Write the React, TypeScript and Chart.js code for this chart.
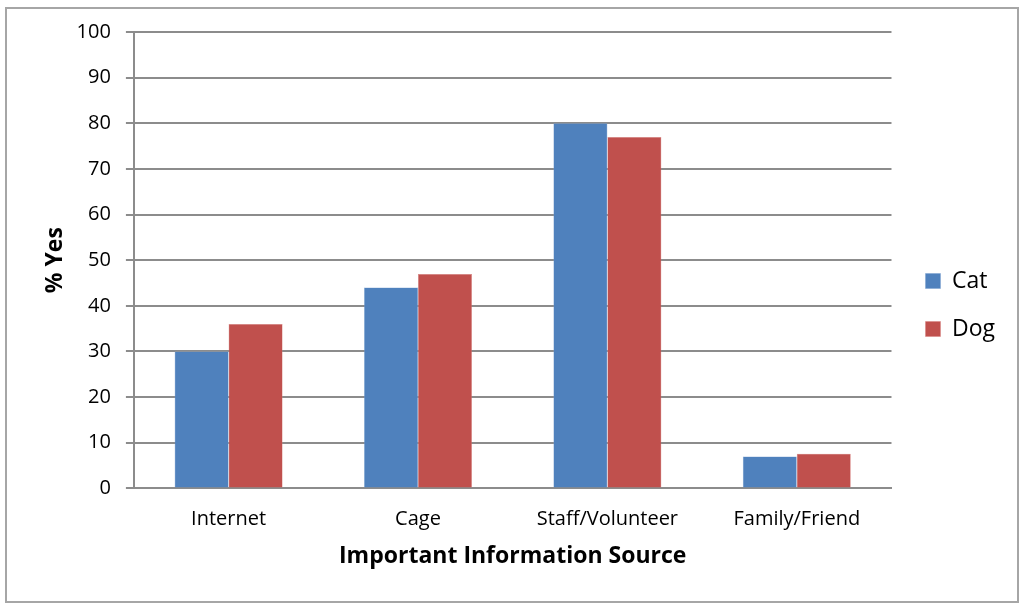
import React, { useEffect, useRef } from 'react';
import { Chart, registerables } from 'chart.js';

Chart.register(...registerables);

// chart data
const categories = ['Internet', 'Cage', 'Staff/Volunteer', 'Family/Friend'];
const catValues = [30, 44, 80, 7];
const dogValues = [36, 47, 77, 7.6];
const seriesNames = ['Cat', 'Dog'];

const FONT = "'Open Sans', 'Noto Sans', sans-serif";

// nudge the legend a little, like the original
const legendShift = {
  id: 'legendShift',
  afterLayout(chart: any) {
    const lg = chart.legend;
    if (!lg) return;
    const dx = 9;
    const dy = 4;
    lg.left += dx;
    lg.right += dx;
    lg.top += dy;
    lg.bottom += dy;
  },
};

const App = () => {
  const canvasRef = useRef<HTMLCanvasElement>(null);
  const chartRef = useRef<Chart | null>(null);

  useEffect(() => {
    document.body.style.margin = '0';
    if (!canvasRef.current) return;
    const ctx = canvasRef.current.getContext('2d');
    if (!ctx) return;

    if (chartRef.current) chartRef.current.destroy();

    chartRef.current = new Chart(ctx, {
      type: 'bar',
      data: {
        labels: categories,
        datasets: [
          {
            label: seriesNames[0],
            data: catValues,
            backgroundColor: '#4F81BD',
            borderColor: '#7FA3D1',
            borderWidth: 0.5,
          },
          {
            label: seriesNames[1],
            data: dogValues,
            backgroundColor: '#C0504D',
            borderColor: '#D98583',
            borderWidth: 0.5,
          },
        ],
      },
      options: {
        animation: false,
        responsive: false,
        maintainAspectRatio: false,
        layout: { padding: { left: 42, top: 32, right: 28, bottom: 37 } },
        datasets: {
          bar: { categoryPercentage: 0.57, barPercentage: 1 },
        },
        plugins: {
          legend: {
            position: 'right',
            labels: {
              boxWidth: 15,
              boxHeight: 15,
              padding: 25,
              color: '#000',
              font: { family: FONT, size: 23 },
            },
          },
          tooltip: { enabled: false },
        },
        scales: {
          x: {
            grid: { display: false },
            border: { display: true, color: '#8c8c8c', width: 2 },
            ticks: { color: '#000', font: { family: FONT, size: 20 }, padding: 11 },
            title: {
              display: true,
              text: 'Important Information Source',
              color: '#000',
              font: { family: FONT, size: 23, weight: 'bold' },
              padding: { top: 0, bottom: 0 },
            },
          },
          y: {
            min: 0,
            max: 100,
            ticks: { stepSize: 10, color: '#000', font: { family: FONT, size: 20 }, padding: 15 },
            grid: { color: '#8c8c8c', lineWidth: 2, tickLength: 8 },
            border: { display: true, color: '#8c8c8c', width: 2 },
            title: {
              display: true,
              text: '% Yes',
              color: '#000',
              font: { family: FONT, size: 23, weight: 'bold' },
              padding: { top: 0, bottom: -8 },
            },
          },
        },
      },
      plugins: [legendShift],
    });

    return () => {
      if (chartRef.current) {
        chartRef.current.destroy();
        chartRef.current = null;
      }
    };
  }, []);

  return (
    <div style={{ position: 'relative', width: 1024, height: 607, background: '#fff' }}>
      <canvas ref={canvasRef} width={1024} height={607} style={{ position: 'absolute', left: 0, top: 0 }} />
      <div
        style={{
          position: 'absolute',
          left: 5,
          top: 7,
          width: 1014,
          height: 596,
          border: '2px solid #a6a6a6',
          boxSizing: 'border-box',
          pointerEvents: 'none',
        }}
      />
    </div>
  );
};

export default App;
